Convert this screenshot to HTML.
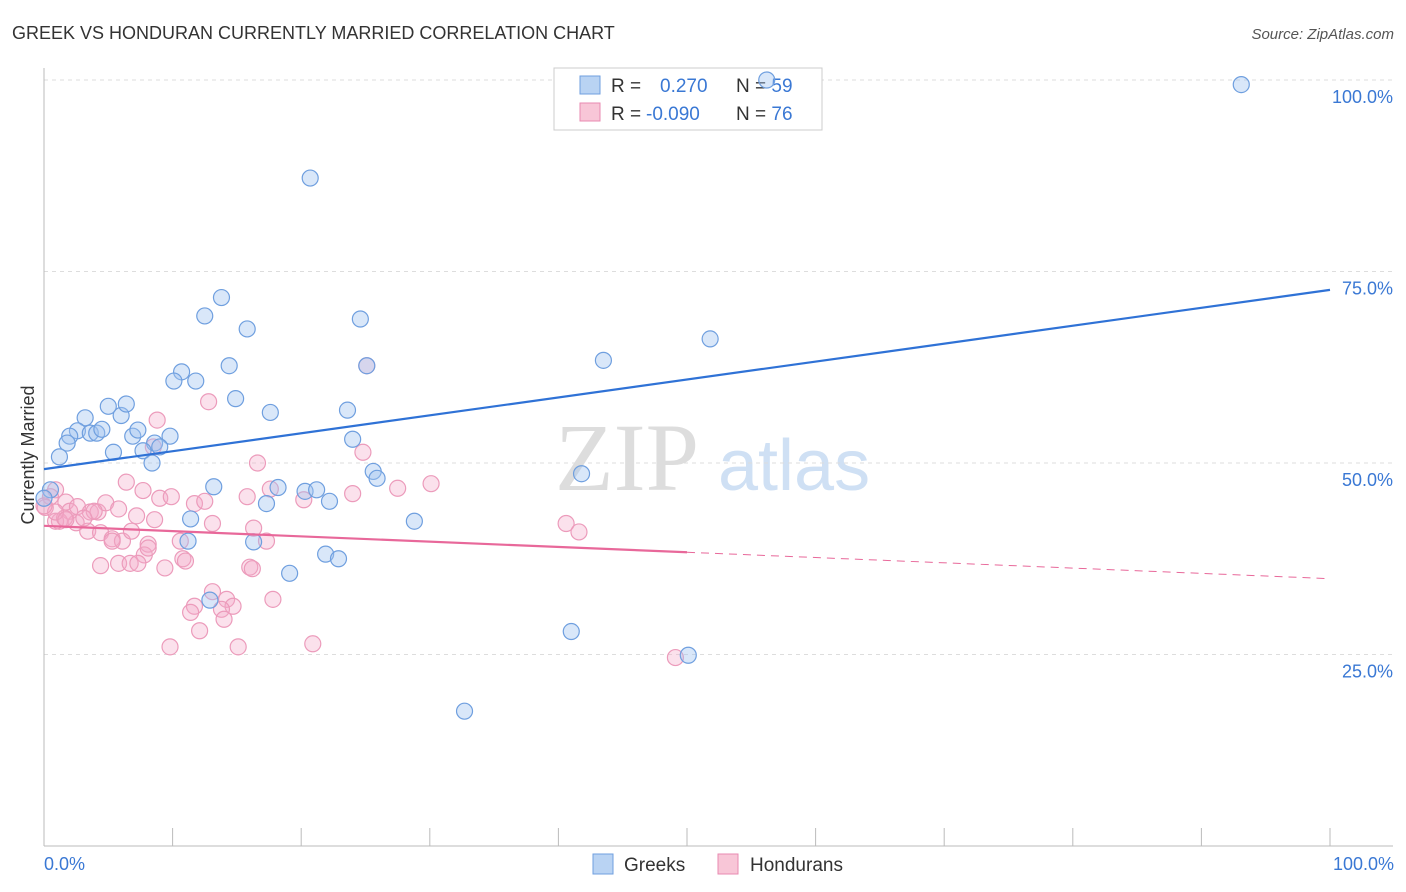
<!DOCTYPE html>
<html><head><meta charset="utf-8"><style>
body{margin:0;background:#fff;font-family:"Liberation Sans",sans-serif}
svg{display:block}
</style></head><body>
<svg id="chart" width="1406" height="892" viewBox="0 0 1406 892">
<text x="12" y="39" font-size="18" fill="#333">GREEK VS HONDURAN CURRENTLY MARRIED CORRELATION CHART</text>
<text x="1394" y="39" font-size="15" fill="#555" font-style="italic" text-anchor="end">Source: ZipAtlas.com</text>
<text x="555" y="490" font-size="96" fill="#ddd" font-family="Liberation Serif,serif">ZIP</text>
<text x="718" y="490" font-size="72" fill="#cfe0f4">atlas</text>
<g id="grid"></g><g id="axes"></g>
<g>
<rect x="554" y="68" width="268" height="62" fill="#fff" stroke="#ccc"/>
<rect x="580" y="76" width="20" height="18" fill="#b9d3f3" stroke="#6f9fdf"/>
<rect x="580" y="103" width="20" height="18" fill="#f8c6d7" stroke="#e88ab0"/>
<text x="611" y="92" font-size="19" fill="#333">R = <tspan fill="#3a78d4" x="660">0.270</tspan><tspan x="736">N = </tspan><tspan fill="#3a78d4">59</tspan></text>
<text x="611" y="120" font-size="19" fill="#333">R = <tspan fill="#3a78d4" x="646">-0.090</tspan><tspan x="736">N = </tspan><tspan fill="#3a78d4">76</tspan></text>
</g>
<g id="pts"></g><g id="lines"></g>
<text transform="translate(34,455) rotate(-90)" font-size="18" fill="#333" text-anchor="middle">Currently Married</text>
<text x="44" y="870" font-size="18" fill="#3a78d4">0.0%</text>
<text x="1394" y="870" font-size="18" fill="#3a78d4" text-anchor="end">100.0%</text>
<g>
<rect x="593" y="854" width="20" height="20" fill="#b9d3f3" stroke="#6f9fdf"/>
<text x="624" y="871" font-size="19" fill="#333">Greeks</text>
<rect x="718" y="854" width="20" height="20" fill="#f8c6d7" stroke="#e88ab0"/>
<text x="750" y="871" font-size="19" fill="#333">Hondurans</text>
</g>
</svg>
<script>
const yTicks=[25,50,75,100];
const xTicks=[0,10,20,30,40,50,60,70,80,90,100];
const greekX=[56.2,93.1,20.7,13.8,12.5,15.8,24.6,14.4,25.1,43.5,51.8,10.7,10.1,11.8,14.9,17.6,23.6,6.0,3.2,6.4,5.0,2.6,2.0,1.8,3.6,4.1,4.5,6.9,7.3,9.8,8.6,9.0,7.7,5.4,1.2,8.4,24.0,25.6,25.9,41.8,18.2,13.2,20.3,21.2,22.2,17.3,11.4,11.2,16.3,28.8,19.1,21.9,22.9,12.9,41.0,50.1,32.7,0.5,0.0];
const greekY=[100,99.4,87.2,71.6,69.2,67.5,68.8,62.7,62.7,63.4,66.2,61.9,60.7,60.7,58.4,56.6,56.9,56.2,55.9,57.7,57.4,54.2,53.5,52.6,53.9,53.9,54.4,53.5,54.3,53.5,52.6,52.1,51.6,51.4,50.8,50.0,53.1,48.9,48.0,48.6,46.8,46.9,46.3,46.5,45.0,44.7,42.7,39.8,39.7,42.4,35.6,38.1,37.5,32.1,28.0,24.9,17.6,46.5,45.4];
const hondX=[25.1,8.8,12.8,16.6,24.8,8.5,6.4,7.7,9.0,9.9,11.7,12.5,15.8,17.6,20.2,24.0,27.5,30.1,0.9,0.5,1.7,2.0,2.6,3.6,4.2,4.8,5.8,3.9,1.2,2.5,3.4,4.4,5.3,6.1,6.8,8.6,7.2,10.6,13.1,16.3,17.3,8.1,7.8,5.8,6.7,7.3,4.4,9.4,10.8,11.0,16.0,16.2,13.1,14.2,14.7,13.8,11.7,11.4,17.8,14.0,12.1,9.8,15.1,20.9,40.6,41.6,49.1,0.9,1.6,3.1,0.1,0.9,5.3,8.1,0.0,1.7];
const hondY=[62.7,55.6,58.0,50.0,51.4,52.1,47.5,46.4,45.4,45.6,44.7,45.0,45.6,46.6,45.2,46.0,46.7,47.3,46.5,45.6,44.9,43.7,44.3,43.6,43.6,44.8,44.0,43.7,42.4,42.2,41.1,40.9,40.1,39.8,41.1,42.6,43.1,39.8,42.1,41.5,39.8,39.4,38.0,36.9,36.9,36.9,36.6,36.3,37.5,37.2,36.4,36.2,33.2,32.2,31.3,30.9,31.3,30.5,32.2,29.6,28.1,26.0,26.0,26.4,42.1,41.0,24.6,42.4,42.8,42.8,44.2,43.6,39.8,38.9,44.4,42.6];
const blueLine=[49.2,72.6];
const pinkLine=[41.8,34.9];
const pinkSolidEnd=50;
const NS="http://www.w3.org/2000/svg";
const X=v=>44+v*12.86, Y=v=>846-v*7.66;
function mk(tag,attrs,parent){const e=document.createElementNS(NS,tag);for(const k in attrs)e.setAttribute(k,attrs[k]);parent.appendChild(e);return e;}
const grid=document.getElementById('grid'),axes=document.getElementById('axes'),pts=document.getElementById('pts'),lines=document.getElementById('lines');
yTicks.forEach(t=>{
 const l=mk('line',{x1:44,x2:1393,y1:Y(t),y2:Y(t),stroke:'#ddd','stroke-dasharray':'4,4'},grid);
 
 
 const tx=mk('text',{x:1393,y:Y(t)+23,'font-size':18,fill:'#3a78d4','text-anchor':'end'},grid);
 tx.textContent=t.toFixed(1)+'%';
 
 
});
const ya=mk('line',{x1:44,x2:44,y1:68,y2:846,stroke:'#bbb'},axes);


const xa=mk('line',{x1:44,x2:1393,y1:846,y2:846,stroke:'#bbb'},axes);


xTicks.forEach(t=>{
 const l=mk('line',{x1:X(t),x2:X(t),y1:828,y2:846,stroke:'#bbb'},axes);
 
 
});
hondX.forEach((v,i)=>{
 const c=mk('circle',{cx:X(v),cy:Y(hondY[i]),r:8,fill:'rgba(244,170,200,0.35)',stroke:'#ec9bbb','stroke-width':1.2},pts);
 
 
});
greekX.forEach((v,i)=>{
 const c=mk('circle',{cx:X(v),cy:Y(greekY[i]),r:8,fill:'rgba(160,196,240,0.4)',stroke:'#6f9fdf','stroke-width':1.2},pts);
 
 
});
const bl=mk('line',{x1:X(0),y1:Y(blueLine[0]),x2:X(100),y2:Y(blueLine[1]),stroke:'#2f72d6','stroke-width':2.2},lines);


const pm=pinkLine[0]+(pinkLine[1]-pinkLine[0])*pinkSolidEnd/100;
const pl=mk('line',{x1:X(0),y1:Y(pinkLine[0]),x2:X(pinkSolidEnd),y2:Y(pm),stroke:'#e8689a','stroke-width':2.2},lines);


const pd=mk('line',{x1:X(pinkSolidEnd),y1:Y(pm),x2:X(100),y2:Y(pinkLine[1]),stroke:'#e8689a','stroke-width':1,'stroke-dasharray':'8,6'},lines);


</script>
</body></html>
